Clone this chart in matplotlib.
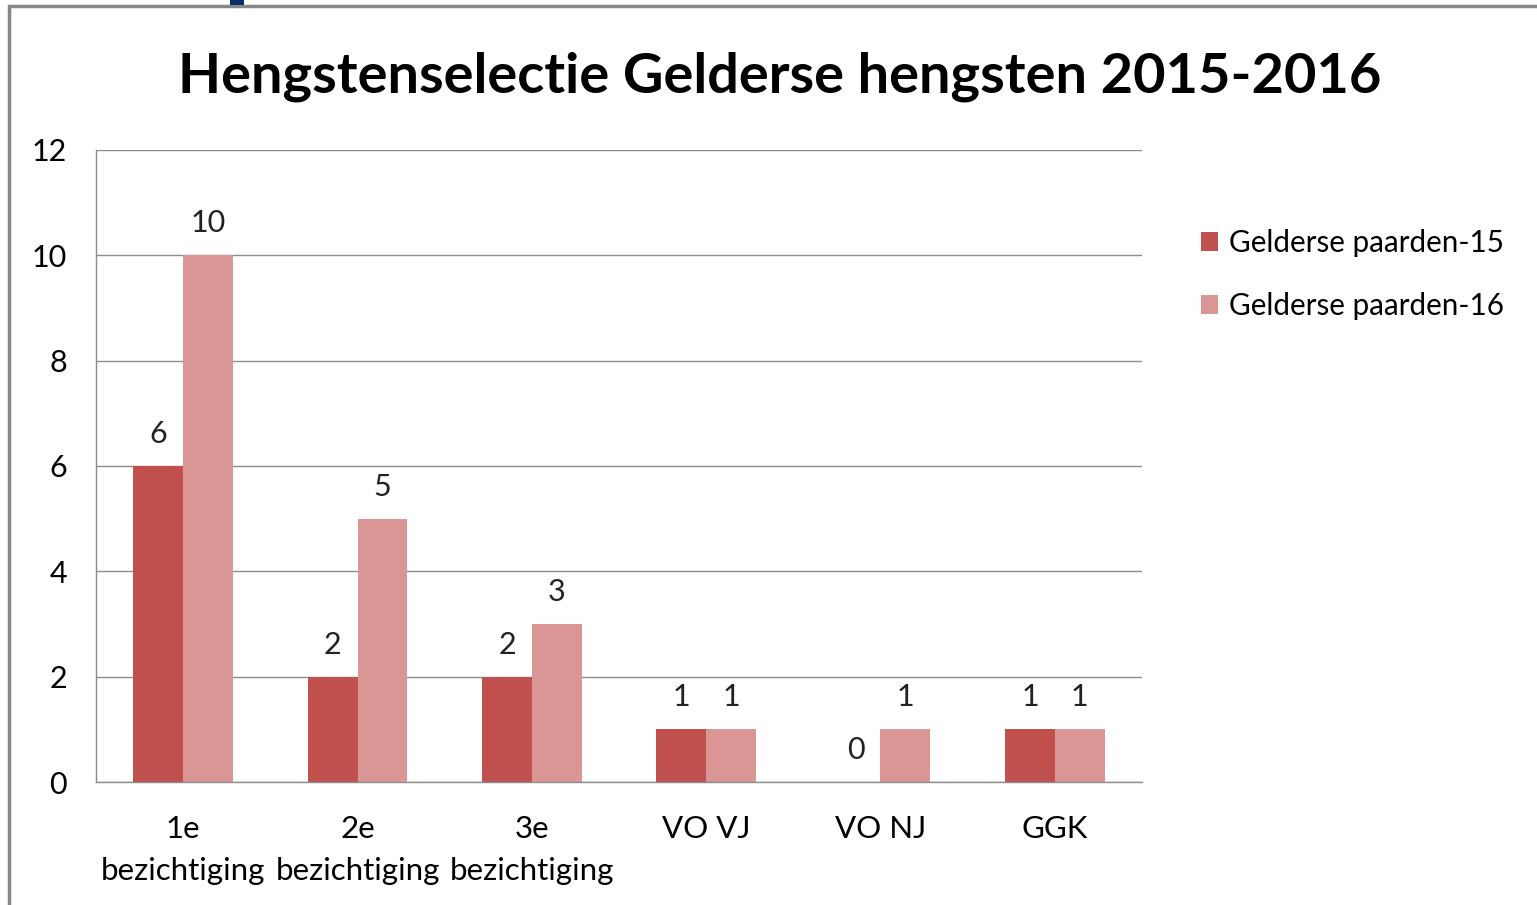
import matplotlib.pyplot as plt
import numpy as np
from matplotlib.patches import Rectangle

plt.rcParams['font.family'] = ['Lato', 'DejaVu Sans']

categories = ["1e\nbezichtiging", "2e\nbezichtiging", "3e\nbezichtiging", "VO VJ", "VO NJ", "GGK"]
paarden_15 = [6, 2, 2, 1, 0, 1]
paarden_16 = [10, 5, 3, 1, 1, 1]
series_names = ["Gelderse paarden-15", "Gelderse paarden-16"]
colors = ["#C0504D", "#D99694"]

fig = plt.figure(figsize=(15.37, 9.05), dpi=100)
W, H = 1537, 905

# outer chart frame (gray) and small blue mark at the top
fig.add_artist(Rectangle((8.5 / W, -0.1), 1.2, (H - 6.5) / H + 0.1, transform=fig.transFigure,
                         fill=False, edgecolor="#878787", linewidth=2.5))
fig.add_artist(Rectangle((230 / W, (H - 5) / H), 14 / W, 5 / H, transform=fig.transFigure,
                         facecolor="#0B2A6B", edgecolor="none"))

ax = fig.add_axes([96 / W, 1 - 782 / H, (1142 - 96) / W, (782 - 150) / H])

x = np.arange(len(categories))
w = 0.285
b1 = ax.bar(x - w / 2, paarden_15, w, color=colors[0], label=series_names[0])
b2 = ax.bar(x + w / 2, paarden_16, w, color=colors[1], label=series_names[1])
for bars in (b1, b2):
    ax.bar_label(bars, padding=13, fontsize=22, color="#222222")

ax.set_xlim(-0.5, len(categories) - 0.5)
ax.set_ylim(0, 12)
ax.set_yticks(range(0, 13, 2))
ax.set_xticks(x)
ax.set_xticklabels(categories, fontsize=22.5, linespacing=1.6)
ax.tick_params(axis="y", labelsize=22, length=0, pad=21)
ax.tick_params(axis="x", length=0, pad=24)
ax.yaxis.grid(True, color="#8C8C8C", linewidth=1)
ax.set_axisbelow(True)
for s in ["top", "right"]:
    ax.spines[s].set_visible(False)
for s in ["left", "bottom"]:
    ax.spines[s].set_color("#8C8C8C")
    ax.spines[s].set_linewidth(1)

fig.text(780 / W, 1 - 77 / H, "Hengstenselectie Gelderse hengsten 2015-2016",
         ha="center", va="center", fontsize=40.3, fontweight="bold", color="black")

ax.legend(loc="upper left", bbox_to_anchor=(1174 / W, 1 - 202 / H), bbox_transform=fig.transFigure,
          frameon=False, fontsize=21.3, handlelength=0.6, handleheight=0.6, handletextpad=0.35,
          labelspacing=1.2)

fig.savefig("out.png", dpi=100)
